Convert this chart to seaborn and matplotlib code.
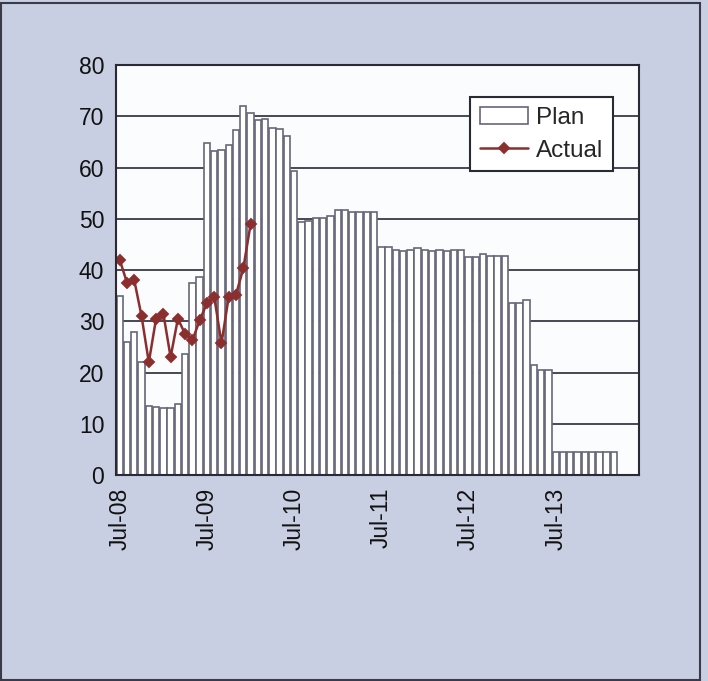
import numpy as np
import pandas as pd
import seaborn as sns
import matplotlib.pyplot as plt
from matplotlib.patches import Rectangle

# monthly categories Jul-08 .. Jun-14
months = [d.strftime("%b-%y") for d in pd.date_range("2008-07-01", periods=72, freq="MS")]

# plan values (bars), Jul-08 .. Mar-14
plan = [35, 26, 28, 22, 13.5, 13.3, 13, 13, 13.8, 23.7, 37.4, 38.7,
        64.7, 63.3, 63.5, 64.4, 67.3, 72, 70.7, 69.3, 69.5, 67.8, 67.6, 66.1,
        59.3, 49.4, 49.6, 50.1, 50.1, 50.5, 51.7, 51.7, 51.4, 51.4, 51.4, 51.3,
        44.4, 44.4, 43.9, 43.8, 43.9, 44.2, 43.9, 43.8, 44.0, 43.8, 44.0, 43.9,
        42.6, 42.5, 43.1, 42.7, 42.7, 42.7, 33.5, 33.5, 34.1, 21.5, 20.5, 20.5,
        4.4, 4.4, 4.4, 4.4, 4.4, 4.4, 4.4, 4.4, 4.4]

# actual values (line), Jul-08 .. Jan-10
actual = [42, 37.5, 38, 31, 22, 30.5, 31.5, 23, 30.5, 27.5, 26.3, 30.2,
          33.5, 34.8, 25.7, 34.8, 35.2, 40.3, 48.9]

tick_labels = months[::12][:6]

plan_df = pd.DataFrame({"Month": months[:len(plan)], "Plan": plan})
actual_df = pd.DataFrame({"Month": months[:len(actual)], "Actual": actual})

sns.set_style("white")
plt.rcParams["font.family"] = ["Liberation Sans", "DejaVu Sans"]

bg = "#c8cfe3"
fig = plt.figure(figsize=(7.08, 6.81), dpi=100, facecolor=bg)
ax = fig.add_axes([0.164, 0.3025, 0.739, 0.602])
ax.set_facecolor("#fbfcfe")

sns.barplot(data=plan_df, x="Month", y="Plan", order=months, color="white",
            edgecolor="#66667a", linewidth=1.2, width=0.88, errorbar=None,
            saturation=1, label="Plan", ax=ax)
sns.pointplot(data=actual_df, x="Month", y="Actual", order=months, color="#8b2e2e",
              markers="D", markersize=5.5, linewidth=1.8, errorbar=None,
              label="Actual", ax=ax)

ax.set_xlim(-0.5, len(months) - 0.5)
ax.set_ylim(0, 80)
ax.set_yticks(np.arange(0, 81, 10))
ax.set_xticks([months.index(m) for m in tick_labels])
ax.set_xticklabels(tick_labels, rotation=90)
ax.set_xlabel("")
ax.set_ylabel("")

ax.yaxis.grid(True, color="#3a3a48", linewidth=1.3)
ax.set_axisbelow(True)
for s in ax.spines.values():
    s.set_color("#2a2a35")
    s.set_linewidth(1.5)

ax.tick_params(axis="y", direction="inout", length=9, width=1.3, colors="#2a2a35",
               labelsize=16.5, labelcolor="#111111", pad=4)
ax.tick_params(axis="x", length=0, labelsize=16.5, labelcolor="#111111", pad=9)

# legend: Plan first, then Actual
handles, labels = ax.get_legend_handles_labels()
hmap = dict(zip(labels, handles))
leg = ax.legend([hmap["Plan"], hmap["Actual"]], ["Plan", "Actual"],
                loc="upper right", bbox_to_anchor=(0.972, 0.952), fontsize=17.5,
                frameon=True, fancybox=False, edgecolor="#2a2a35", framealpha=1,
                handlelength=2.0, handletextpad=0.3, borderpad=0.4, labelspacing=0.45)
leg.get_frame().set_linewidth(1.5)

# scan border
fig.patches.append(Rectangle((0.002, 0.002), 0.986, 0.994, transform=fig.transFigure,
                             fill=False, edgecolor="#3a3a48", linewidth=1.5))

fig.savefig("out.png", dpi=100, facecolor=bg)
